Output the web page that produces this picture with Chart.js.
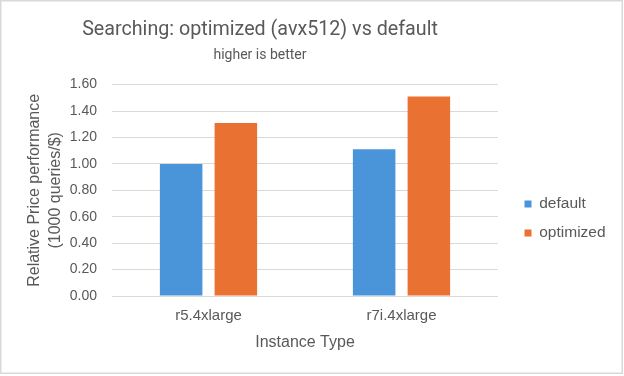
<!DOCTYPE html>
<html>
<head>
<meta charset="utf-8">
<script src="https://cdn.jsdelivr.net/npm/chart.js@4.4.1/dist/chart.umd.min.js"></script>
<style>
  html, body { margin: 0; padding: 0; background: #ffffff; }
  #wrap { position: relative; width: 624px; height: 376px; }
</style>
</head>
<body>
<div id="wrap"><canvas id="c" width="624" height="376"></canvas></div>
<script>
// ---- data ----
const categories = ['r5.4xlarge', 'r7i.4xlarge'];
const seriesNames = ['default', 'optimized'];
const defaultValues = [1.00, 1.11];
const optimizedValues = [1.31, 1.51];
const yTickValues = [0.00, 0.20, 0.40, 0.60, 0.80, 1.00, 1.20, 1.40, 1.60];
const titleText = 'Searching: optimized (avx512) vs default';
const subtitleText = 'higher is better';
const xTitle = 'Instance Type';
const yTitle = ['Relative Price performance', '(1000 queries/$)'];

const GREY = '#595959';
const SANS = "'Liberation Sans', Arial, sans-serif";
const TITLE_FONT = "Roboto, 'Liberation Sans', sans-serif";

const layoutTweaks = {
  id: 'layoutTweaks',
  beforeLayout(chart) {
    const lg = chart.legend;
    if (lg && !lg._fitPatched) {
      const orig = lg.fit;
      lg.fit = function () { orig.call(this); this.width = 126; };
      lg._fitPatched = true;
    }
  },
  afterLayout(chart) {
    const lg = chart.legend;
    const p = 13.5;
    if (lg) { lg.left = 524.5 - p; lg.top = 182.75; }
    chart.boxes.forEach(b => {
      if (b.options && (b.options.text === titleText || b.options.text === subtitleText)) {
        b.left = 0; b.right = 520;
      }
    });
  },
  afterDraw(chart) {
    const ctx = chart.ctx;
    ctx.save();
    ctx.strokeStyle = '#d9d9d9';
    ctx.lineWidth = 1.5;
    ctx.strokeRect(0.75, 0.75, 621.5, 372.5);
    ctx.restore();
  }
};

new Chart(document.getElementById('c'), {
  type: 'bar',
  data: {
    labels: categories,
    datasets: [
      { label: seriesNames[0], data: defaultValues, backgroundColor: '#4a94da', borderWidth: 0 },
      { label: seriesNames[1], data: optimizedValues, backgroundColor: '#e97132', borderWidth: 0 }
    ]
  },
  options: {
    responsive: false,
    animation: false,
    devicePixelRatio: 1,
    layout: { padding: { top: 0, left: 0, right: 0, bottom: 0 } },
    datasets: { bar: { categoryPercentage: 0.567, barPercentage: 0.777 } },
    plugins: {
      title: {
        display: true, text: titleText, color: GREY,
        font: { family: TITLE_FONT, size: 19.7, weight: 'normal', lineHeight: 1.2 },
        padding: { top: 18, bottom: 0 }
      },
      subtitle: {
        display: true, text: subtitleText, color: GREY,
        font: { family: TITLE_FONT, size: 14, weight: 'normal', lineHeight: 1.2 },
        padding: { top: 5, bottom: 21.2 }
      },
      legend: {
        display: true, position: 'right', align: 'start',
        labels: {
          boxWidth: 7, boxHeight: 7, padding: 13.5, color: GREY,
          font: { family: SANS, size: 15.5 }
        }
      },
      tooltip: { enabled: false }
    },
    scales: {
      x: {
        grid: { display: false },
        border: { display: false },
        ticks: { color: GREY, padding: 3, font: { family: SANS, size: 15 } },
        title: {
          display: true, text: xTitle, color: GREY,
          font: { family: SANS, size: 16, lineHeight: 1.2 },
          padding: { top: 0, bottom: 24 }
        },
        afterFit(s) { s.height = 80; }
      },
      y: {
        min: 0, max: 1.6,
        afterBuildTicks(s) { s.ticks = yTickValues.map(v => ({ value: v })); },
        grid: { color: '#d9d9d9', lineWidth: 1, drawTicks: false },
        border: { display: false },
        ticks: {
          color: GREY, padding: 15,
          font: { family: SANS, size: 14 },
          callback: v => Number(v).toFixed(2)
        },
        title: {
          display: true, text: yTitle, color: GREY,
          font: { family: SANS, size: 16, lineHeight: 1.3125 },
          padding: { top: 24, bottom: 0 }
        },
        afterFit(s) { s.width = 112; }
      }
    }
  },
  plugins: [layoutTweaks]
});
</script>
</body>
</html>
